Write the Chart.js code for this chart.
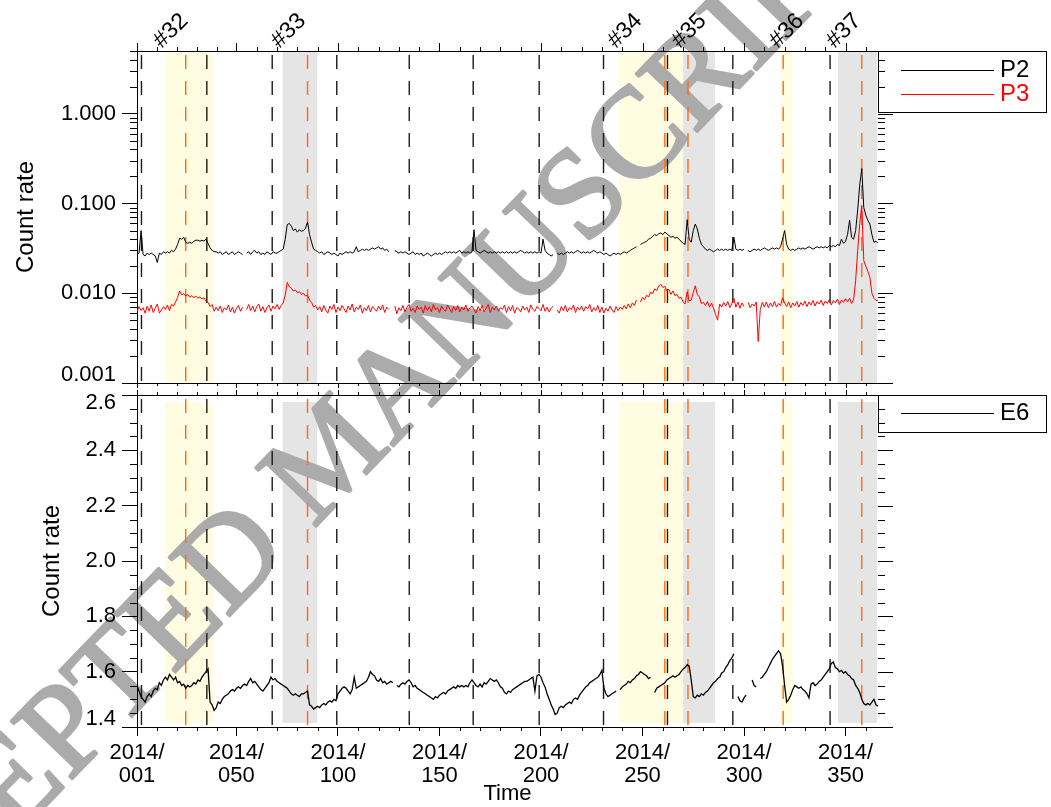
<!DOCTYPE html>
<html><head><meta charset="utf-8">
<script src="https://cdn.jsdelivr.net/npm/chart.js@4.4.0/dist/chart.umd.min.js"></script>
<style>
html,body{margin:0;padding:0;background:#fff;}
#wrap{position:relative;width:1051px;height:807px;overflow:hidden;background:#fff;}
canvas{position:absolute;left:0;}
#c1{top:0;width:1051px;height:389px;}
#c2{top:389px;width:1051px;height:418px;}
</style></head><body>
<div id="wrap"><canvas id="c1" width="1051" height="389"></canvas><canvas id="c2" width="1051" height="418"></canvas></div>
<script>
// ---------------- data ----------------
const days = Array.from({length: 366}, (_, i) => i + 1); // day of year 2014

const p2 = [
0.027,0.028,0.050,0.027,0.026,0.028,0.027,0.028,0.027,0.026,
0.022,0.028,0.027,0.029,0.028,0.029,0.028,0.030,0.029,0.031,
0.035,0.041,0.040,0.042,0.037,0.036,0.037,0.036,0.038,0.039,
0.039,0.038,0.039,0.038,0.040,0.036,0.032,0.030,0.029,0.029,
0.028,0.029,0.027,0.028,0.029,0.027,0.028,0.029,0.027,0.028,
0.029,0.028,0.027,null,0.028,0.029,0.027,0.029,0.030,0.028,
0.029,0.027,0.028,0.027,0.029,0.028,0.027,0.029,0.028,0.028,
0.029,0.030,0.031,0.040,0.058,0.060,0.056,0.050,0.052,0.048,
0.051,0.049,0.050,0.053,0.062,0.045,0.037,0.031,0.030,0.029,
0.028,0.029,0.027,0.028,0.029,0.028,0.027,0.028,0.027,0.026,
0.028,0.027,0.028,0.029,0.028,0.029,0.028,0.029,0.033,0.029,
0.030,0.031,0.030,0.031,0.030,0.031,0.032,0.031,0.032,0.033,
0.031,0.032,0.030,0.031,0.029,null,null,0.030,0.029,0.028,
0.029,0.028,0.029,0.028,0.027,0.028,0.029,0.027,0.028,0.027,
0.028,0.026,0.027,0.028,0.027,0.026,0.027,0.028,0.027,0.028,
0.027,0.028,0.029,0.028,0.029,0.028,0.029,0.028,0.029,0.030,
0.028,0.029,0.028,0.029,0.028,0.029,0.051,0.030,0.029,0.028,
0.029,0.030,0.029,0.028,0.029,0.028,0.029,0.028,0.029,0.028,
0.029,0.028,0.029,0.028,0.029,0.028,0.029,0.028,0.029,0.030,
0.029,0.028,0.029,0.028,0.029,0.028,0.029,0.028,0.029,0.028,
0.040,0.030,0.028,0.027,0.026,0.027,null,0.028,0.027,0.028,
0.027,0.028,0.029,0.028,0.029,0.028,0.029,0.030,0.029,0.028,
0.029,0.028,0.029,0.028,0.029,0.030,0.029,0.028,0.029,0.028,
0.027,0.028,0.027,0.026,0.027,0.028,0.027,0.028,0.027,0.028,
0.029,0.028,0.029,0.030,0.031,0.032,0.033,null,0.035,0.036,
0.037,0.038,0.040,0.041,0.043,0.045,0.044,0.046,0.047,0.045,
0.048,0.046,0.044,0.042,0.043,0.041,0.042,0.040,0.038,0.036,
0.035,0.066,0.040,0.037,0.050,0.059,0.052,0.041,0.035,0.033,
0.031,0.030,0.031,0.030,0.029,0.030,0.031,0.030,0.031,0.030,
0.031,0.030,0.031,0.030,0.042,0.031,0.030,0.031,0.030,0.031,
null,0.030,0.029,0.030,0.031,0.030,0.031,0.030,0.031,0.032,
0.031,0.030,0.031,0.032,0.031,0.032,0.031,0.033,0.040,0.050,
0.035,0.031,0.030,0.031,0.030,0.031,0.032,0.031,0.032,0.031,
0.032,0.033,0.032,0.031,0.032,0.033,0.032,0.033,0.032,0.033,
0.032,0.034,0.033,0.034,0.033,0.035,0.034,0.040,0.036,0.038,
0.045,0.065,0.042,0.040,0.050,0.085,0.160,0.245,0.090,0.074,
0.065,0.059,0.045,0.037,0.038,0.036
];

const p3 = [
0.0062,0.0071,0.0064,0.0069,0.0060,0.0072,0.0063,0.0074,0.0061,0.0068,
0.0076,0.0060,0.0065,0.0071,0.0066,0.0074,0.0064,0.0075,0.0072,0.0080,
0.0090,0.0106,0.0096,0.0099,0.0093,0.0097,0.0090,0.0094,0.0089,0.0093,
0.0088,0.0091,0.0086,0.0089,0.0081,0.0079,0.0071,0.0075,0.0063,0.0070,
0.0064,0.0072,0.0061,0.0069,0.0065,0.0074,0.0062,0.0070,0.0060,0.0068,
0.0073,0.0063,0.0070,null,0.0066,0.0075,0.0064,0.0072,0.0062,0.0071,
0.0076,0.0063,0.0071,0.0061,0.0069,0.0074,0.0063,0.0072,0.0067,0.0075,
0.0066,0.0073,0.0078,0.0095,0.0132,0.0118,0.0114,0.0106,0.0109,0.0101,
0.0104,0.0097,0.0100,0.0093,0.0095,0.0084,0.0079,0.0070,0.0073,0.0065,
0.0071,0.0062,0.0073,0.0065,0.0060,0.0072,0.0066,0.0075,0.0061,0.0070,
0.0064,0.0073,0.0067,0.0061,0.0072,0.0065,0.0076,0.0062,0.0070,0.0066,
0.0074,0.0060,0.0069,0.0064,0.0073,0.0062,0.0071,0.0067,0.0063,0.0072,
0.0065,0.0074,0.0061,0.0070,0.0066,null,null,0.0072,0.0059,0.0069,
0.0064,0.0073,0.0062,0.0070,0.0075,0.0063,0.0068,0.0061,0.0072,0.0066,
0.0070,0.0060,0.0073,0.0064,0.0071,0.0062,0.0075,0.0065,0.0069,0.0061,
0.0072,0.0066,0.0063,0.0074,0.0067,0.0061,0.0071,0.0064,0.0073,0.0062,
0.0070,0.0065,0.0074,0.0063,0.0069,0.0072,0.0066,0.0060,0.0071,0.0064,
0.0073,0.0062,0.0068,0.0075,0.0061,0.0070,0.0065,0.0072,0.0063,0.0069,
0.0066,0.0074,0.0061,0.0071,0.0064,0.0073,0.0060,0.0069,0.0067,0.0062,
0.0072,0.0065,0.0070,0.0061,0.0074,0.0066,0.0063,0.0071,0.0068,0.0064,
0.0075,0.0063,0.0070,0.0062,0.0068,0.0072,null,0.0065,0.0060,0.0071,
0.0064,0.0073,0.0062,0.0069,0.0066,0.0074,0.0061,0.0070,0.0065,0.0072,
0.0063,0.0071,0.0067,0.0075,0.0062,0.0069,0.0064,0.0073,0.0061,0.0070,
0.0060,0.0068,0.0063,0.0072,0.0065,0.0061,0.0071,0.0064,0.0070,0.0066,
0.0073,0.0067,0.0076,0.0069,0.0078,0.0073,0.0084,null,0.0080,0.0090,
0.0085,0.0095,0.0091,0.0103,0.0099,0.0112,0.0107,0.0121,0.0126,0.0116,
0.0119,0.0106,0.0110,0.0097,0.0106,0.0094,0.0097,0.0088,0.0090,0.0080,
0.0076,0.0104,0.0082,0.0084,0.0102,0.0121,0.0097,0.0091,0.0077,0.0079,
0.0073,0.0081,0.0070,0.0078,0.0068,0.0058,0.0050,0.0076,0.0070,0.0079,
0.0072,0.0081,0.0069,0.0077,0.0088,0.0070,0.0080,0.0068,0.0078,0.0071,
null,0.0079,0.0069,0.0076,0.0072,0.0080,0.0029,0.0066,0.0079,0.0070,
0.0080,0.0069,0.0078,0.0071,0.0081,0.0070,0.0077,0.0073,0.0089,0.0078,
0.0071,0.0080,0.0069,0.0078,0.0072,0.0081,0.0070,0.0079,0.0073,0.0082,
0.0071,0.0080,0.0074,0.0083,0.0072,0.0081,0.0076,0.0084,0.0073,0.0082,
0.0077,0.0085,0.0074,0.0083,0.0078,0.0086,0.0075,0.0084,0.0079,0.0087,
0.0080,0.0088,0.0077,0.0085,0.0140,0.0300,0.0600,0.0950,0.0230,0.0200,
0.0175,0.0150,0.0100,0.0088,0.0083,0.0084
];

const e6 = [
1.55,1.53,1.51,1.50,1.49,1.51,1.52,1.51,1.53,1.54,
1.535,1.56,1.55,1.57,1.58,1.57,1.59,1.58,1.57,1.58,
1.56,1.565,1.55,1.555,1.54,1.55,1.545,1.55,1.56,1.555,
1.57,1.565,1.58,1.59,1.60,1.61,1.49,1.48,1.46,1.47,
1.49,1.485,1.50,1.51,1.515,1.52,1.53,1.535,1.53,1.54,
1.545,1.54,1.55,1.555,1.55,1.565,1.575,1.56,1.565,1.555,
1.545,1.535,1.53,1.54,1.55,1.56,1.58,1.57,1.575,1.565,
1.56,1.555,1.55,1.545,1.54,1.53,1.52,1.515,1.52,1.515,
1.51,1.52,1.52,1.525,1.53,1.48,1.475,1.465,1.47,1.475,
1.47,1.48,1.485,1.48,1.49,1.495,1.49,1.50,1.495,1.52,
1.53,1.54,1.545,1.54,1.53,1.52,1.535,1.58,1.54,1.545,
1.55,1.555,1.56,1.565,1.58,1.60,1.59,1.585,1.57,1.565,
1.575,1.56,1.565,1.555,1.56,1.565,1.56,null,1.55,1.545,
1.555,1.56,1.555,1.565,1.57,1.56,1.545,1.55,1.54,1.535,
1.53,1.525,1.52,1.515,1.51,1.505,1.50,1.51,1.505,1.515,
1.52,1.525,1.52,1.53,1.535,1.54,1.545,1.54,1.55,1.545,
1.55,1.545,1.55,1.545,1.56,1.57,1.56,1.55,1.545,1.555,
1.545,1.56,1.555,1.565,1.575,1.57,1.565,1.57,1.56,1.545,
1.54,1.525,1.52,1.53,1.525,1.535,1.54,1.545,1.55,1.555,
1.56,1.565,1.565,1.57,1.575,1.58,1.53,1.585,1.59,1.58,
1.56,1.545,1.52,1.50,1.48,1.465,1.445,1.45,1.47,1.475,
1.47,1.48,1.485,1.49,1.485,1.50,1.505,1.50,1.515,1.525,
1.535,1.545,1.55,1.56,1.565,1.57,1.575,1.58,1.59,1.605,
1.54,1.52,1.51,1.515,1.52,1.525,1.53,null,1.535,1.545,
1.55,1.555,1.565,1.56,1.57,1.575,1.585,1.59,1.60,1.595,
1.59,1.585,1.575,1.58,null,1.525,1.54,1.545,1.55,1.555,
1.56,1.57,1.575,1.58,1.585,1.58,1.585,1.59,1.60,1.61,
1.615,1.625,1.62,1.57,1.51,1.505,1.515,1.51,1.52,1.515,
1.525,1.53,1.54,1.55,1.56,1.565,1.575,1.58,1.595,1.60,
1.615,1.625,1.64,1.65,1.665,null,1.51,1.495,1.49,1.505,
1.515,null,null,1.57,1.55,1.545,null,1.575,1.58,1.59,
1.60,1.615,1.63,1.645,1.655,1.665,1.675,1.665,1.62,1.55,
1.49,1.50,1.515,1.535,1.55,1.545,1.54,1.545,1.535,1.53,
1.52,1.505,1.555,1.56,1.55,1.555,1.565,1.57,1.58,1.59,
1.60,1.61,1.63,1.635,1.615,1.61,1.60,1.605,1.595,1.60,
1.59,1.585,1.575,1.57,1.55,1.54,1.525,1.50,1.485,1.48,
1.485,1.48,1.49,1.50,1.48,1.475
];

const xMajorTicks = [1, 50, 100, 150, 200, 250, 300, 350];
const topTicks = [0.001, 0.01, 0.1, 1];
const botTicks = [1.4, 1.6, 1.8, 2.0, 2.2, 2.4, 2.6];

const shadeYellow = [[14.7, 38.6], [238.4, 270.0], [318.1, 323.9]];
const shadeGray   = [[72.7, 89.7], [270.0, 285.7], [346.2, 365.5]];
const eventLabels = ['#32', '#33', '#34', '#35', '#36', '#37'];
const eventDays   = [14.7, 72.7, 238.4, 270.0, 318.1, 346.2];
const blackLines  = [3.2, 35.4, 67.6, 99.4, 135.1, 166.6, 199.1, 230.8, 262.3, 294.5, 342.4];
const orangeLines = [25.0, 85.0, 261.0, 272.4, 319.3, 358.0];

// ---------------- drawing ----------------
const FONT = "'Liberation Sans', Arial, Helvetica, sans-serif";
Chart.defaults.font.family = FONT;
Chart.defaults.color = '#000';

const xMinor = [];
for (let i = 0; i < xMajorTicks.length - 1; i++) {
  const a = xMajorTicks[i], b = xMajorTicks[i + 1];
  for (let k = 1; k < 5; k++) xMinor.push(a + (b - a) * k / 5);
}
xMinor.push(360);

function seg(ctx, x1, y1, x2, y2) { ctx.beginPath(); ctx.moveTo(x1, y1); ctx.lineTo(x2, y2); ctx.stroke(); }
const r5 = v => Math.round(v) + 0.5;

function drawWatermark(ctx, pageTop) {
  ctx.save();
  ctx.translate(0, -pageTop);
  ctx.translate(335, 458);
  ctx.rotate(-46 * Math.PI / 180);
  ctx.font = "128px 'Liberation Serif', 'Times New Roman', serif";
  ctx.fillStyle = '#ababab';
  ctx.strokeStyle = '#ababab';
  ctx.lineWidth = 3;
  ctx.lineJoin = 'round';
  ctx.textAlign = 'center';
  ctx.textBaseline = 'middle';
  ctx.fillText('ACCEPTED MANUSCRIPT', 0, 0);
  ctx.strokeText('ACCEPTED MANUSCRIPT', 0, 0);
  ctx.restore();
}

const deco = {
  id: 'deco',
  beforeDraw(chart, args, o) {
    const {ctx, chartArea: a, scales: {x, y}} = chart;
    const yt = o.shade ? y.getPixelForValue(o.shade[1]) : a.top;
    const yb = o.shade ? y.getPixelForValue(o.shade[0]) : a.bottom;
    ctx.save();
    ctx.fillStyle = '#fffde1';
    shadeYellow.forEach(([s, e]) => { const xa = x.getPixelForValue(s), xb = x.getPixelForValue(e); ctx.fillRect(xa, yt, xb - xa, yb - yt); });
    ctx.fillStyle = '#e5e5e5';
    shadeGray.forEach(([s, e]) => { const xa = x.getPixelForValue(s), xb = x.getPixelForValue(e); ctx.fillRect(xa, yt, xb - xa, yb - yt); });
    ctx.restore();
    drawWatermark(ctx, o.pageTop);
  },
  beforeDatasetsDraw(chart, args, o) {
    const {ctx, chartArea: a, scales: {x}} = chart;
    ctx.save();
    ctx.setLineDash([14, 12]);
    ctx.lineDashOffset = -4;
    ctx.lineWidth = 1.4;
    ctx.strokeStyle = '#1a1a1a';
    blackLines.forEach(d => { const px = x.getPixelForValue(d); seg(ctx, px, a.top, px, a.bottom); });
    ctx.strokeStyle = '#ff6a10';
    orangeLines.forEach(d => { const px = x.getPixelForValue(d); seg(ctx, px, a.top, px, a.bottom); });
    ctx.restore();
  },
  afterDraw(chart, args, o) {
    const {ctx, chartArea: a, scales: {x, y}} = chart;
    ctx.save();
    ctx.strokeStyle = '#000';
    ctx.lineWidth = 1;
    seg(ctx, 130, r5(a.top), a.right, r5(a.top));
    xMajorTicks.forEach(d => { const px = r5(x.getPixelForValue(d)); seg(ctx, px, a.top, px, a.top - o.topMaj); });
    xMinor.forEach(d => { const px = r5(x.getPixelForValue(d)); seg(ctx, px, a.top, px, a.top - o.topMin); });
    if (o.bottomTicks) {
      xMajorTicks.forEach(d => { const px = r5(x.getPixelForValue(d)); seg(ctx, px, a.bottom, px, a.bottom + o.bottomTicks[0]); });
    }
    xMinor.forEach(d => { const px = r5(x.getPixelForValue(d)); seg(ctx, px, a.bottom, px, a.bottom + o.bottomMin); });
    o.yMajor.forEach(v => { const py = r5(y.getPixelForValue(v)); seg(ctx, a.right, py, a.right + 15, py); });
    o.yMinor.forEach(v => { const py = r5(y.getPixelForValue(v)); seg(ctx, a.left, py, a.left - 7, py); seg(ctx, a.right, py, a.right + 7, py); });
    const L = o.legend;
    ctx.strokeRect(878.5, L.top + 0.5, 1046 - 878, L.bottom - L.top);
    ctx.font = '24px ' + FONT;
    ctx.textBaseline = 'middle';
    ctx.textAlign = 'left';
    chart.data.datasets.forEach((ds, i) => {
      const yy = L.rows[i];
      ctx.strokeStyle = ds.borderColor;
      ctx.lineWidth = 1.2;
      seg(ctx, 901, yy + 0.5, 994, yy + 0.5);
      ctx.fillStyle = ds.borderColor;
      ctx.fillText(ds.label, 1000, yy);
    });
    if (o.events) {
      ctx.fillStyle = '#000';
      ctx.font = '23px ' + FONT;
      ctx.textBaseline = 'alphabetic';
      eventLabels.forEach((t, i) => {
        const px = x.getPixelForValue(eventDays[i]) - 3;
        ctx.save();
        ctx.translate(px, 49);
        ctx.rotate(-Math.PI / 4);
        ctx.fillText(t, 0, 0);
        ctx.restore();
      });
    }
    ctx.restore();
  }
};
Chart.register(deco);

function xScale(isBottom) {
  return {
    type: 'linear', min: 1, max: 366, position: 'bottom',
    afterBuildTicks: s => { s.ticks = xMajorTicks.map(v => ({value: v})); },
    ticks: isBottom ? {
      display: true, autoSkip: false, maxRotation: 0, minRotation: 0, padding: 5,
      font: {size: 22, lineHeight: 1.05}, color: '#000',
      callback: v => ['2014/', String(v).padStart(3, '0')]
    } : {display: false},
    grid: {display: true, drawOnChartArea: false, drawTicks: isBottom, tickLength: 9, tickColor: '#000', tickWidth: 1},
    border: {display: true, color: '#000', width: 1},
    title: isBottom ? {display: true, text: 'Time', font: {size: 22}, color: '#000', padding: {top: 0, bottom: 0}} : {display: false},
    afterFit: s => { s.height = isBottom ? 80 : 6; s.paddingLeft = 0; s.paddingRight = 0; }
  };
}

const logMinor = [];
for (let d = -3; d <= 0; d++) for (let m = 2; m <= 9; m++) { const v = m * Math.pow(10, d); if (v <= 5) logMinor.push(v); }
const linMinor = [];
for (let k = 0; k <= 24; k++) { const v = 1.4 + k * 0.05; if (k % 4 !== 0) linMinor.push(v); }

new Chart(document.getElementById('c1'), {
  type: 'line',
  data: {
    datasets: [
      {label: 'P2', data: p2.map((v, i) => ({x: days[i], y: v})), borderColor: '#000000', borderWidth: 1, pointRadius: 0, spanGaps: false, tension: 0},
      {label: 'P3', data: p3.map((v, i) => ({x: days[i], y: v})), borderColor: '#ff0000', borderWidth: 1, pointRadius: 0, spanGaps: false, tension: 0}
    ]
  },
  options: {
    responsive: false, animation: false, devicePixelRatio: 1, events: [],
    layout: {padding: {left: 0, top: 51, right: 173, bottom: 0}},
    scales: {
      x: xScale(false),
      y: {
        type: 'logarithmic', min: 0.001, max: 5, position: 'left',
        afterBuildTicks: s => { s.ticks = topTicks.map(v => ({value: v})); },
        ticks: {font: {size: 22, lineHeight: 0.7}, color: '#000', padding: 6, autoSkip: false,
          callback: v => Math.abs(v - 0.001) < 1e-9 ? [v.toFixed(3), ''] : v.toFixed(3)},
        grid: {display: true, drawOnChartArea: false, drawTicks: true, tickLength: 15, tickColor: '#000'},
        border: {display: true, color: '#000', width: 1},
        title: {display: true, text: 'Count rate', font: {size: 24}, color: '#000', padding: {top: 12, bottom: 0}},
        afterFit: s => { s.width = 137; s.paddingTop = 0; s.paddingBottom = 0; }
      }
    },
    plugins: {
      legend: {display: false}, tooltip: {enabled: false},
      deco: {pageTop: 0, events: true, topMaj: 8, topMin: 4, bottomTicks: [5], bottomMin: 3,
        yMajor: topTicks, yMinor: logMinor, legend: {top: 51, bottom: 112, rows: [70, 94]}}
    }
  }
});

new Chart(document.getElementById('c2'), {
  type: 'line',
  data: {
    datasets: [
      {label: 'E6', data: e6.map((v, i) => ({x: days[i], y: v})), borderColor: '#000000', borderWidth: 1.3, pointRadius: 0, spanGaps: false, tension: 0}
    ]
  },
  options: {
    responsive: false, animation: false, devicePixelRatio: 1, events: [],
    layout: {padding: {left: 0, top: 6, right: 173, bottom: 0}},
    scales: {
      x: xScale(true),
      y: {
        type: 'linear', min: 1.4, max: 2.6, position: 'left',
        afterBuildTicks: s => { s.ticks = botTicks.map(v => ({value: v})); },
        ticks: {font: {size: 22, lineHeight: 0.7}, color: '#000', padding: 6, autoSkip: false,
          callback: v => { const t = v.toFixed(1); if (Math.abs(v - 1.4) < 1e-6) return [t, '']; if (Math.abs(v - 2.6) < 1e-6) return ['', t]; return t; }},
        grid: {display: true, drawOnChartArea: false, drawTicks: true, tickLength: 15, tickColor: '#000'},
        border: {display: true, color: '#000', width: 1},
        title: {display: true, text: 'Count rate', font: {size: 24}, color: '#000', padding: {top: 38, bottom: 0}},
        afterFit: s => { s.width = 137; s.paddingTop = 0; s.paddingBottom = 0; }
      }
    },
    plugins: {
      legend: {display: false}, tooltip: {enabled: false},
      deco: {pageTop: 389, events: false, shade: [1.415, 2.575], topMaj: 5, topMin: 3, bottomTicks: null, bottomMin: 4,
        yMajor: botTicks, yMinor: linMinor, legend: {top: 6, bottom: 43, rows: [24]}}
    }
  }
});
</script>
</body></html>
